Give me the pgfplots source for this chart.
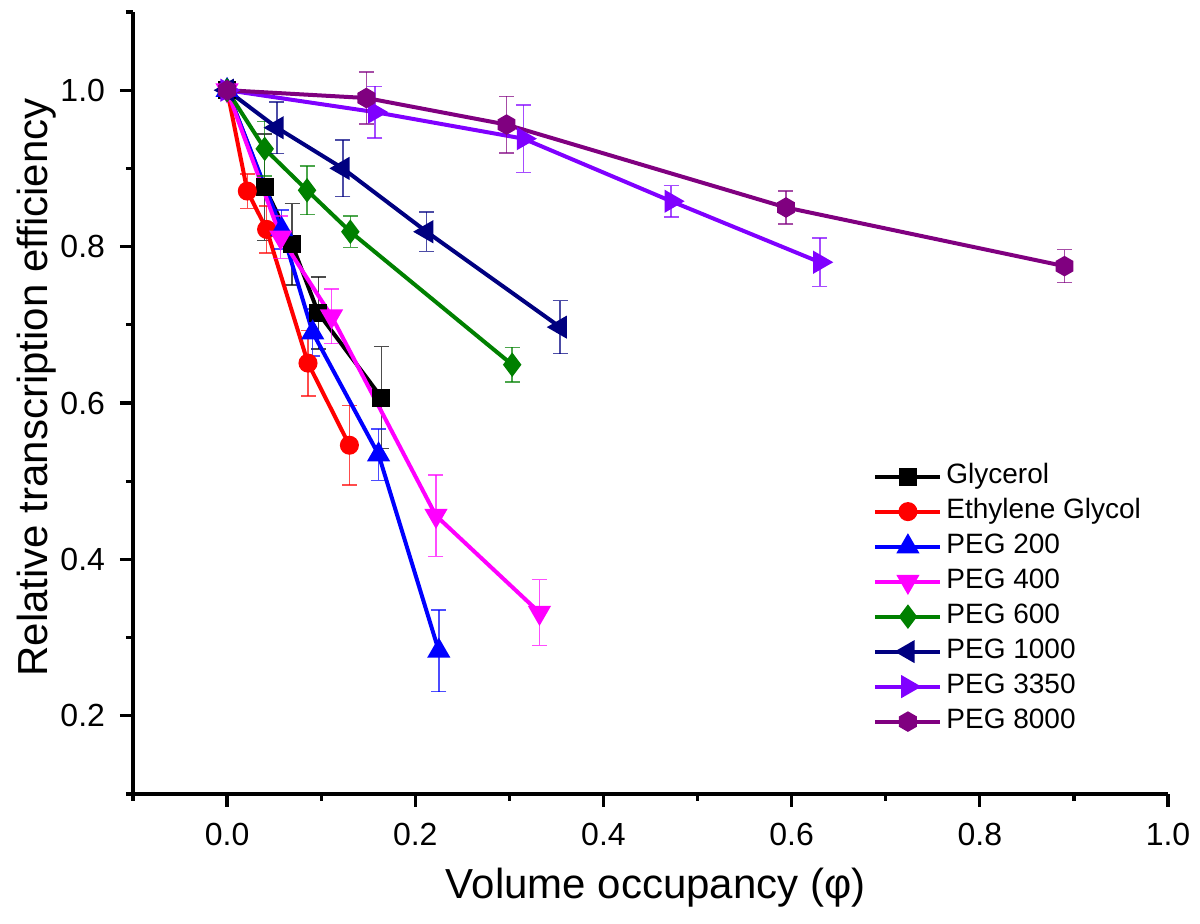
\documentclass[border=0pt]{standalone}
\usepackage{pgfplots}
\pgfplotsset{compat=1.18}
\usepackage{fontspec}
\setmainfont{Liberation Sans}

\definecolor{cblack}{RGB}{0,0,0}
\definecolor{cred}{RGB}{255,0,0}
\definecolor{cblue}{RGB}{0,0,255}
\definecolor{cmag}{RGB}{255,0,255}
\definecolor{cgreen}{RGB}{0,128,0}
\definecolor{cnavy}{RGB}{0,0,128}
\definecolor{cviolet}{RGB}{128,0,255}
\definecolor{cpurple}{RGB}{128,0,128}

\pgfdeclareplotmark{hexagon}{%
  \pgfpathmoveto{\pgfqpointpolar{30}{\pgfplotmarksize}}%
  \pgfpathlineto{\pgfqpointpolar{90}{\pgfplotmarksize}}%
  \pgfpathlineto{\pgfqpointpolar{150}{\pgfplotmarksize}}%
  \pgfpathlineto{\pgfqpointpolar{210}{\pgfplotmarksize}}%
  \pgfpathlineto{\pgfqpointpolar{270}{\pgfplotmarksize}}%
  \pgfpathlineto{\pgfqpointpolar{330}{\pgfplotmarksize}}%
  \pgfpathclose
  \pgfusepathqfillstroke
}

\pgfplotstableread{
x y e
0 1 0
0.040 0.876 0.068
0.069 0.803 0.052
0.097 0.715 0.046
0.164 0.607 0.065
}\glycerol
\pgfplotstableread{
x y e
0 1 0
0.0215 0.871 0.022
0.042 0.822 0.030
0.086 0.651 0.042
0.130 0.546 0.051
}\ethgly
\pgfplotstableread{
x y e
0 1 0
0.058 0.822 0.025
0.091 0.690 0.030
0.161 0.534 0.033
0.225 0.283 0.052
}\pegtwo
\pgfplotstableread{
x y e
0 1 0
0.057 0.812 0.027
0.111 0.711 0.035
0.222 0.456 0.052
0.332 0.332 0.042
}\pegfour
\pgfplotstableread{
x y e
0 1 0
0.040 0.925 0.035
0.085 0.872 0.031
0.131 0.819 0.020
0.303 0.649 0.022
}\pegsix
\pgfplotstableread{
x y e
0 1 0
0.053 0.952 0.033
0.123 0.900 0.036
0.212 0.819 0.025
0.354 0.697 0.034
}\pegthousand
\pgfplotstableread{
x y e
0 1 0
0.157 0.972 0.033
0.315 0.938 0.043
0.472 0.858 0.020
0.630 0.780 0.031
}\pegthree
\pgfplotstableread{
x y e
0 1 0
0.148 0.990 0.033
0.297 0.956 0.036
0.594 0.850 0.021
0.890 0.775 0.021
}\pegeight

\begin{document}
\begin{tikzpicture}
\path[use as bounding box] (-66.5bp,-65bp) rectangle (533.5bp,397bp);
\begin{axis}[
  width=517.5bp, height=391bp, scale only axis,
  xmin=-0.1, xmax=1.0, ymin=0.1, ymax=1.1,
  axis x line*=bottom, axis y line*=left,
  axis line style={line width=1.6bp, black},
  x axis line style={line width=1.6bp},
  y axis line style={line width=1.6bp},
  xtick={0,0.2,0.4,0.6,0.8,1.0},
  ytick={0.2,0.4,0.6,0.8,1.0},
  minor xtick={-0.1,0.1,0.3,0.5,0.7,0.9},
  minor ytick={0.1,0.3,0.5,0.7,0.9,1.1},
  tick align=outside,
  major tick length=6.5bp, minor tick length=3.5bp,
  tick style={line width=1.6bp, black},
  major tick style={line width=1.6bp, black},
  minor tick style={line width=1.6bp, black},
  /pgf/number format/assume math mode=true,
  /pgf/number format/fixed, /pgf/number format/fixed zerofill,
  /pgf/number format/precision=1,
  tick label style={font=\fontsize{16bp}{19bp}\selectfont},
  xticklabel={\rule{0pt}{15.75bp}\pgfmathprintnumber{\tick}},
  yticklabel={\pgfmathprintnumber{\tick}\hspace*{4bp}},
  xlabel={Volume occupancy (φ)},
  ylabel={Relative transcription efficiency},
  label style={font=\fontsize{21bp}{24bp}\selectfont},
  xlabel style={at={(axis description cs:0.505,-0.133)}, anchor=base},
  ylabel style={at={(axis description cs:-0.0822,0.52)}, anchor=base},
  legend style={draw=none, fill=none, inner sep=0pt,
    at={(axis description cs:0.715,0.423)}, anchor=north west,
    font=\fontsize{14bp}{16bp}\selectfont,
    row sep=4.5bp, column sep=2bp,
    nodes={inner sep=0pt, text height=10bp, text depth=3bp}},
  legend cell align=left,
  legend image code/.code={%
    \draw[mark repeat=2,mark phase=2] plot coordinates {(0bp,0bp) (16.25bp,0bp) (32.5bp,0bp)};},
  every axis plot/.append style={line width=2bp},
  error bars/y dir=both, error bars/y explicit,
  error bars/error bar style={line width=0.75bp, opacity=0.7},
  error bars/error mark options={rotate=90, mark size=3.75bp, line width=0.75bp, opacity=0.7},
]
\addplot[color=cblack, mark=square*, mark size=3.5bp, mark options={solid, fill=cblack}]
  table[x=x, y=y, y error=e] {\glycerol};
\addlegendentry{Glycerol}
\addplot[color=cred, mark=*, mark size=3.75bp, mark options={solid, fill=cred}]
  table[x=x, y=y, y error=e] {\ethgly};
\addlegendentry{Ethylene Glycol}
\addplot[color=cblue, mark=triangle*, mark size=4.7bp, mark options={solid, fill=cblue}]
  table[x=x, y=y, y error=e] {\pegtwo};
\addlegendentry{PEG 200}
\addplot[color=cmag, mark=triangle*, mark size=4.7bp, mark options={solid, fill=cmag, rotate=180}]
  table[x=x, y=y, y error=e] {\pegfour};
\addlegendentry{PEG 400}
\addplot[color=cgreen, mark=diamond*, mark size=4.5bp, mark options={solid, fill=cgreen}]
  table[x=x, y=y, y error=e] {\pegsix};
\addlegendentry{PEG 600}
\addplot[color=cnavy, mark=triangle*, mark size=4.7bp, mark options={solid, fill=cnavy, rotate=90}]
  table[x=x, y=y, y error=e] {\pegthousand};
\addlegendentry{PEG 1000}
\addplot[color=cviolet, mark=triangle*, mark size=4.7bp, mark options={solid, fill=cviolet, rotate=-90}]
  table[x=x, y=y, y error=e] {\pegthree};
\addlegendentry{PEG 3350}
\addplot[color=cpurple, mark=hexagon, mark size=4bp, mark options={solid, fill=cpurple}]
  table[x=x, y=y, y error=e] {\pegeight};
\addlegendentry{PEG 8000}
\end{axis}
\end{tikzpicture}
\end{document}
